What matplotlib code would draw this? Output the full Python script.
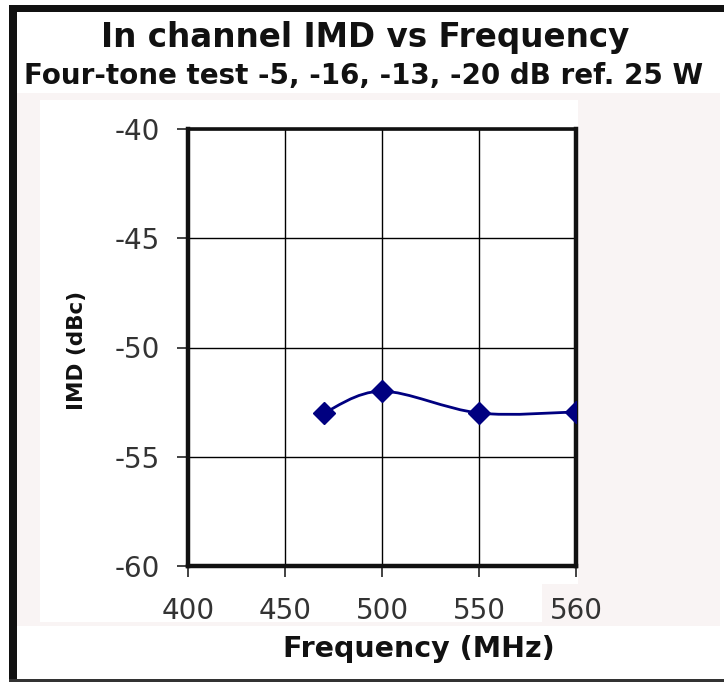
import matplotlib
matplotlib.use("Agg")
import matplotlib.pyplot as plt
from matplotlib.patches import Rectangle, PathPatch
from matplotlib.path import Path
import numpy as np

# ---- data ----
freq_mhz = [470, 500, 550, 600]
imd_dbc = [-53.0, -52.0, -53.0, -52.95]
x_ticks = [400, 450, 500, 550, 600]
x_tick_labels = ["400", "450", "500", "550", "560"]
y_ticks = [-60, -55, -50, -45, -40]
y_tick_labels = ["-60", "-55", "-50", "-45", "-40"]

title = "In channel IMD vs Frequency"
subtitle = "Four-tone test -5, -16, -13, -20 dB ref. 25 W"
xlabel = "Frequency (MHz)"
ylabel = "IMD (dBc)"

W, H = 724, 682
plt.rcParams["font.family"] = ["DejaVu Sans"]
fig = plt.figure(figsize=(W / 100, H / 100), dpi=100)
fig.patch.set_facecolor("white")


def rect_px(x0, y0, x1, y1, color, z=0):
    fig.patches.append(Rectangle((x0 / W, 1 - y1 / H), (x1 - x0) / W, (y1 - y0) / H,
                                 transform=fig.transFigure, facecolor=color,
                                 edgecolor="none", zorder=z))


pink = "#f9f4f4"
rect_px(17, 93, 720, 626, pink, z=-5)
rect_px(40, 100, 578, 622, "white", z=-4)
rect_px(542, 584, 578, 622, pink, z=-3)
# frame
rect_px(9, 5, W, 12, "#111111", z=5)
rect_px(9, 5, 17, H, "#111111", z=5)
rect_px(9, 679, W, H, "#333333", z=5)

ax_l, ax_r, ax_t, ax_b = 188, 576, 129, 566
ax = fig.add_axes([ax_l / W, 1 - ax_b / H, (ax_r - ax_l) / W, (ax_b - ax_t) / H])
ax.set_facecolor("white")
ax.set_xlim(400, 600)
ax.set_ylim(-60, -40)
ax.set_xticks(x_ticks)
ax.set_xticklabels(x_tick_labels)
ax.set_yticks(y_ticks)
ax.set_yticklabels(y_tick_labels)
ax.grid(True, color="black", linewidth=1.0)
ax.set_axisbelow(True)
for s in ["left", "bottom", "right"]:
    ax.spines[s].set_linewidth(3.2)
ax.spines["top"].set_linewidth(2.6)
for s in ax.spines.values():
    s.set_color("#111111")
ax.tick_params(axis="both", direction="out", length=8, width=1.2, color="#222222",
               labelsize=20, labelcolor="#333333")
ax.tick_params(axis="x", pad=14)
ax.tick_params(axis="y", pad=12)

# smoothed line (Catmull-Rom -> cubic Bezier in data coords)
pts = np.column_stack([freq_mhz, imd_dbc]).astype(float)
n = len(pts)
verts = [tuple(pts[0])]
codes = [Path.MOVETO]
for i in range(n - 1):
    p0 = pts[i - 1] if i > 0 else pts[i]
    p1 = pts[i]
    p2 = pts[i + 1]
    p3 = pts[i + 2] if i + 2 < n else pts[i + 1]
    c1 = p1 + (p2 - p0) / 6.0
    c2 = p2 - (p3 - p1) / 6.0
    verts += [tuple(c1), tuple(c2), tuple(p2)]
    codes += [Path.CURVE4] * 3
ax.add_patch(PathPatch(Path(verts, codes), facecolor="none", edgecolor="#000080",
                       linewidth=2.0, zorder=3))
ax.plot(freq_mhz, imd_dbc, linestyle="none", marker="D", markersize=11,
        color="#000080", zorder=4)

ax.set_xlabel(xlabel, fontsize=20.5, fontweight="bold", color="#111111", va="center")
ax.xaxis.set_label_coords((419 - ax_l) / (ax_r - ax_l), (ax_b - 649) / (ax_b - ax_t))
ax.set_ylabel(ylabel, fontsize=15.5, fontweight="bold", color="#111111", va="center")
ax.yaxis.set_label_coords((77 - ax_l) / (ax_r - ax_l), (ax_b - 350) / (ax_b - ax_t))

fig.text(365 / W, 1 - 38 / H, title, ha="center", va="center", fontsize=23.5,
         fontweight="bold", color="#111111")
fig.text(364 / W, 1 - 76 / H, subtitle, ha="center", va="center", fontsize=20,
         fontweight="bold", color="#111111")

fig.savefig("out.png", dpi=100, facecolor=fig.get_facecolor())
